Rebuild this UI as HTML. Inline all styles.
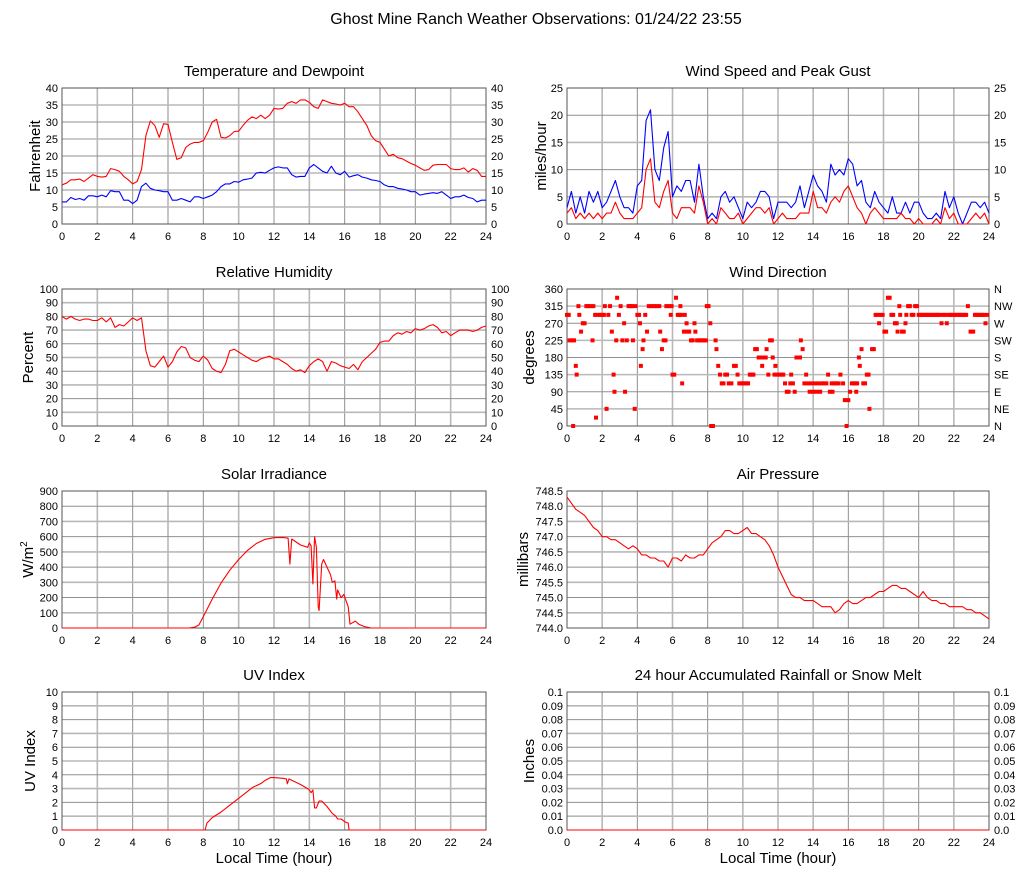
<!DOCTYPE html>
<html><head><meta charset="utf-8"><style>
html,body{margin:0;padding:0;background:#fff;}
svg{display:block;font-family:"Liberation Sans",sans-serif;}
</style></head><body>
<svg id="chart" width="1027" height="878" viewBox="0 0 1027 878" xmlns="http://www.w3.org/2000/svg">
<rect x="0" y="0" width="1027" height="878" fill="#fff"/>
<text x="536" y="24" font-size="16" text-anchor="middle" fill="#000">Ghost Mine Ranch Weather Observations: 01/24/22 23:55</text>
</svg>
<script>
// ---- data (quarter-hour samples unless paired with hours) ----
const tempF = [11.5,12,13,13, 13.2,12.5,13.5,14.5, 14,13.8,14,16.3, 16,15.5,14,13, 11.8,12.5,16,26, 30.3,29,25.5,29.5, 29.3,24,19,19.5, 22.5,23.5,24,24, 24.5,27,30,30.8, 25.5,25.3,26,27.2, 27.3,29,30.5,31.5, 31,32,31,32, 34,33.8,34,35.5, 36,35.5,36.5,36.5, 35.8,34.5,34,36.5, 36,35.5,35.3,35, 35.5,34.5,34.5,33, 31,29,26,24.5, 24,22,20,20.5, 19.5,19.2,18.5,17.8, 17.3,16.5,15.8,16, 17.3,17.5,17.5,17.5, 16.3,16,16,16.5, 15.3,16.3,15.8,14, 14];
const dewF = [6.5,6.5,7.8,7.2, 7.5,7,8.3,8.3, 8,8.5,8,9.8, 9.5,9.5,7,7, 6,7,11,12, 10.5,10,9.8,9.5, 9.5,7,7,7.5, 7,6.5,8,8, 7.5,8,8.5,9.5, 11,11.8,11.8,12.5, 12.3,13,13.2,13.5, 15,15.2,15,15.8, 16.5,16.8,16.5,16.5, 14.5,13.8,14,14, 16.5,17.5,16.5,15.5, 15,17,15,14.5, 15.5,13.8,14.2,14.5, 13.8,13.5,13,12.8, 12.5,11.5,11,11, 10.5,10.3,10,9.5, 9.5,8.5,8.8,9, 9.2,9,9.5,8.5, 7.5,8,8,8.5, 7.8,7.5,6.5,7, 7];
const gustMph = [3,6,2,5, 2,6,4,6, 3,4,6,8, 5,3,3,2, 7,8,19,21, 10,8,14,17, 5,7,6,8, 8,4,11,5, 1,2,1,5, 6,4,5,3, 1,4,3,4, 6,6,5,1, 4,4,4,3, 4,7,3,6, 9,7,6,4, 11,9,10,9, 12,11,7,8, 4,3,6,4, 3,2,5,2, 2,4,2,4, 4,2,1,1, 2,1,6,3, 5,2,0,2, 4,4,3,4, 2];
const speedMph = [2,3,1,2, 1,2,1,2, 1,2,2,4, 2,1,1,1, 2,3,10,12, 4,3,6,8, 2,1,3,3, 3,2,7,4, 0,1,0,3, 2,1,1,2, 0,1,2,3, 3,2,3,0, 1,2,1,1, 1,2,2,2, 6,3,3,2, 4,5,4,6, 7,5,3,2, 0,2,3,2, 1,1,1,1, 2,1,1,0, 1,0,0,0, 1,0,3,1, 2,0,0,0, 1,2,1,2, 0];
const humidity = [80,78,80,78, 77,78,78,77, 77,79,76,79, 72,74,73,76, 79,77,79,55, 44,43,47,51, 43,47,54,58, 57,50,48,47, 51,48,42,40, 39,45,55,56, 54,52,50,48, 47,49,50,51, 49,49,47,45, 42,40,41,39, 44,47,49,47, 40,47,46,44, 43,42,45,41, 47,50,53,56, 61,62,62,66, 68,67,69,68, 71,70,71,73, 74,72,68,69, 66,68,70,70, 70,69,70,72, 73];
const pressure = [748.3,748.1,747.9,747.8, 747.7,747.5,747.3,747.2, 747.0,747.0,746.9,746.9, 746.8,746.7,746.6,746.7, 746.6,746.4,746.4,746.3, 746.3,746.2,746.2,746.0, 746.3,746.3,746.2,746.4, 746.3,746.3,746.4,746.4, 746.6,746.8,746.9,747.0, 747.2,747.2,747.1,747.1, 747.2,747.3,747.1,747.1, 747.0,746.9,746.7,746.4, 746.0,745.7,745.4,745.1, 745.0,745.0,744.9,744.9, 744.9,744.8,744.7,744.7, 744.7,744.5,744.6,744.8, 744.9,744.8,744.8,744.9, 745.0,745.0,745.1,745.2, 745.2,745.3,745.4,745.4, 745.3,745.3,745.2,745.1, 745.0,745.2,745.0,744.9, 744.9,744.8,744.8,744.7, 744.7,744.7,744.7,744.6, 744.6,744.5,744.5,744.4, 744.3];
const dirHours = [0,0.1,0.15,0.3,0.4,0.35,0.5,0.55,0.65,0.7,0.8,0.9,1,1.1,1.2,1.35,1.45,1.5,1.6,1.65,1.75,1.9,2,2.1,2.15,2.25,2.35,2.45,2.55,2.65,2.7,2.8,2.85,2.95,3.05,3.15,3.25,3.3,3.4,3.5,3.6,3.7,3.75,3.85,3.9,4,4.1,4.15,4.2,4.3,4.35,4.45,4.55,4.65,4.8,4.95,5.1,5.25,5.3,5.4,5.5,5.6,5.65,5.8,5.9,5.95,6,6.1,6.2,6.3,6.4,6.45,6.5,6.55,6.65,6.7,6.8,6.85,6.95,7.05,7.15,7.25,7.3,7.4,7.5,7.6,7.7,7.8,7.9,7.95,8.05,8.15,8.2,8.3,8.45,8.5,8.6,8.7,8.8,8.9,9,9.1,9.2,9.35,9.5,9.6,9.7,9.8,9.9,10,10.1,10.2,10.3,10.4,10.5,10.6,10.7,10.8,10.9,11,11.1,11.2,11.3,11.35,11.45,11.55,11.65,11.7,11.8,11.85,11.95,12.1,12.2,12.3,12.4,12.5,12.6,12.7,12.75,12.85,12.95,13.05,13.15,13.25,13.3,13.4,13.5,13.6,13.7,13.8,13.9,14,14.1,14.2,14.3,14.4,14.5,14.6,14.75,14.85,14.95,15.05,15.1,15.2,15.3,15.45,15.55,15.7,15.8,15.9,16,16.1,16.2,16.3,16.4,16.45,16.5,16.6,16.65,16.75,16.85,16.95,17.05,17.15,17.2,17.35,17.45,17.55,17.65,17.75,17.85,17.95,18.05,18.15,18.25,18.35,18.45,18.55,18.65,18.75,18.8,18.9,18.95,19.05,19.15,19.25,19.3,19.4,19.5,19.6,19.7,19.8,19.9,20,20.1,20.2,20.3,20.4,20.5,20.6,20.7,20.8,20.9,21,21.1,21.2,21.3,21.4,21.5,21.6,21.7,21.8,21.9,22,22.1,22.2,22.3,22.4,22.5,22.6,22.7,22.8,22.95,23.1,23.2,23.3,23.4,23.5,23.6,23.7,23.8,23.9,24];
const dirDeg = [292,292,225,225,225,0,158,135,315,292,248,270,270,315,315,315,225,315,292,22,292,292,292,292,315,45,292,315,248,135,90,225,337,292,315,225,270,90,225,315,315,315,225,45,315,292,292,270,158,202,225,292,248,315,315,315,315,315,248,202,225,225,315,315,292,315,135,135,337,292,292,315,292,112,248,292,270,248,248,225,225,270,248,225,225,225,225,225,225,315,315,270,0,0,225,202,158,135,112,112,135,135,112,112,158,158,135,112,112,112,112,112,112,135,135,135,202,202,180,180,158,180,180,202,135,225,225,180,135,158,135,135,135,135,112,90,90,112,135,112,90,180,180,180,225,202,112,135,112,90,112,90,112,90,112,90,112,112,112,135,90,112,90,112,112,112,135,112,68,0,68,90,112,112,112,90,112,180,158,202,112,112,135,135,45,202,202,292,292,270,292,292,248,248,337,337,292,292,270,270,248,315,292,248,248,270,292,315,315,292,292,315,315,292,292,292,292,292,292,292,292,292,292,292,292,292,270,292,292,270,292,292,292,292,292,292,292,292,292,292,292,315,248,248,292,292,292,292,292,292,270,292];
const solarHours = [0,7.2,7.5,7.75,8,8.5,9,9.5,10,10.5,11,11.5,12,12.5,12.8,12.9,13,13.5,13.9,14,14.1,14.2,14.3,14.4,14.5,14.55,14.7,14.8,15,15.2,15.3,15.45,15.55,15.6,15.8,15.95,16.2,16.3,16.6,16.8,17.1,17.5,24];
const solarWm2 = [0,0,5,20,75,190,295,380,450,510,555,583,593,595,590,420,585,545,530,560,540,290,600,530,140,115,420,450,400,350,300,310,190,250,200,220,140,25,45,25,10,0,0];
const uvHours = [0,8.1,8.2,8.5,9,9.5,10,10.5,10.8,11,11.3,11.5,11.8,12,12.5,12.7,12.75,12.85,13,13.5,13.9,14,14.1,14.2,14.3,14.4,14.55,14.7,15,15.3,15.5,15.6,15.8,16,16.2,16.25,24];
const uvIndex = [0,0,0.5,0.9,1.3,1.8,2.3,2.8,3.1,3.2,3.4,3.6,3.8,3.8,3.75,3.7,3.35,3.7,3.6,3.3,3.0,2.9,2.7,2.9,1.6,1.6,2.1,2.1,1.7,1.2,1.0,0.8,0.8,0.6,0.5,0,0];
const rainHours = [0,24];
const rainIn = [0,0];
const xTicks = [0,2,4,6,8,10,12,14,16,18,20,22,24];

const NS = 'http://www.w3.org/2000/svg';
const svg = document.getElementById('chart');
function mk(tag, attrs, parent){ const e=document.createElementNS(NS,tag); for(const k in attrs) e.setAttribute(k,attrs[k]); (parent||svg).appendChild(e); return e; }
const quarter = n => Array.from({length:n},(_,i)=>i*0.25);

function panel(o){
  const g = mk('g',{});
  
  
  const sx = h => o.l + (h/24)*(o.r-o.l);
  const sy = v => o.b - (v-o.ymin)/(o.ymax-o.ymin)*(o.b-o.t);
  const t = mk('text',{x:(o.l+o.r)/2,y:o.t-12,'font-size':15,'text-anchor':'middle',fill:'#000'},g);
  t.textContent = o.title;
  
  
  mk('rect',{x:o.l,y:o.t,width:o.r-o.l,height:o.b-o.t,fill:'#fff'},g);
  xTicks.forEach((h,i)=>{
    if(i>0&&i<xTicks.length-1) mk('line',{x1:sx(h),x2:sx(h),y1:o.t,y2:o.b,stroke:(i%2?'#b8b8b8':'#909090'),'stroke-width':(i%2?1.6:1)},g);
    const lb = mk('text',{x:sx(h),y:o.b+16,'font-size':11,'text-anchor':'middle',fill:'#000'},g);
    lb.textContent = h;
    
    
  });
  o.yticks.forEach((v,i)=>{
    const y = sy(v);
    if(i>0&&i<o.yticks.length-1) mk('line',{x1:o.l,x2:o.r,y1:y,y2:y,stroke:(i%2?'#b8b8b8':'#909090'),'stroke-width':(i%2?1.6:1)},g);
    const lb = mk('text',{x:o.l-4,y:y+4,'font-size':11,'text-anchor':'end',fill:'#000'},g);
    lb.textContent = o.fmt? o.fmt(v) : v;
    
    
    if(o.right){
      const rl = mk('text',{x:o.r+5,y:y+4,'font-size':11,'text-anchor':'start',fill:'#000'},g);
      rl.textContent = o.rightLabels ? o.rightLabels[i] : (o.fmt? o.fmt(v):v);
      
      
    }
  });
  mk('rect',{x:o.l,y:o.t,width:o.r-o.l,height:o.b-o.t,fill:'none',stroke:'#555','stroke-width':1},g);
  const cy=(o.t+o.b)/2;
  const yt = mk('text',{x:o.ylx,y:cy,'font-size':15,'text-anchor':'middle',fill:'#000',transform:`rotate(-90 ${o.ylx} ${cy})`},g);
  yt.innerHTML = o.ylabel;
  
  
  if(o.xlabel){
    const xt = mk('text',{x:(o.l+o.r)/2,y:o.b+33,'font-size':15,'text-anchor':'middle',fill:'#000'},g);
    xt.textContent = 'Local Time (hour)';
    
    
  }
  return {g,sx,sy};
}
function series(p, hs, vs, color, name){
  const d = vs.map((v,i)=>(i?'L':'M')+p.sx(hs[i]).toFixed(1)+','+p.sy(v).toFixed(1)).join('');
  const e = mk('path',{d,fill:'none',stroke:color,'stroke-width':1.1,'stroke-linejoin':'round'},p.g);
  
  
}
const range=(a,b,s)=>{const r=[];for(let v=a;v<=b+1e-9;v+=s)r.push(+v.toFixed(3));return r;};
const L={l:62,r:486}, R={l:567,r:989};

let p;
p = panel({...L,t:88,b:224,ymin:0,ymax:40,yticks:range(0,40,5),right:true,title:'Temperature and Dewpoint',name:'temperature',ylabel:'Fahrenheit',ylx:40});
series(p, quarter(tempF.length), tempF, '#ff0000', 'temperature-line');
series(p, quarter(dewF.length), dewF, '#0000ff', 'dewpoint-line');

p = panel({...R,t:88,b:224,ymin:0,ymax:25,yticks:range(0,25,5),right:true,title:'Wind Speed and Peak Gust',name:'wind-speed',ylabel:'miles/hour',ylx:546});
series(p, quarter(gustMph.length), gustMph, '#0000ff', 'peak-gust-line');
series(p, quarter(speedMph.length), speedMph, '#ff0000', 'wind-speed-line');

p = panel({...L,t:289,b:426,ymin:0,ymax:100,yticks:range(0,100,10),right:true,title:'Relative Humidity',name:'humidity',ylabel:'Percent',ylx:33});
series(p, quarter(humidity.length), humidity, '#ff0000', 'humidity-line');

p = panel({...R,t:289,b:426,ymin:0,ymax:360,yticks:range(0,360,45),right:true,rightLabels:['N','NE','E','SE','S','SW','W','NW','N'],title:'Wind Direction',name:'wind-direction',ylabel:'degrees',ylx:534});
dirDeg.forEach((v,i)=>{
  const r = mk('rect',{x:p.sx(dirHours[i])-2,y:p.sy(v)-2,width:4,height:4,fill:'#ff0000'},p.g);
  
  
});

p = panel({...L,t:491,b:628,ymin:0,ymax:900,yticks:range(0,900,100),right:false,title:'Solar Irradiance',name:'solar',ylabel:'W/m<tspan dy="-6" font-size="10">2</tspan>',ylx:33});
series(p, solarHours, solarWm2, '#ff0000', 'solar-line');

p = panel({...R,t:491,b:628,ymin:744,ymax:748.5,yticks:range(744,748.5,0.5),fmt:v=>v.toFixed(1),right:false,title:'Air Pressure',name:'pressure',ylabel:'millibars',ylx:528});
series(p, quarter(pressure.length), pressure, '#ff0000', 'pressure-line');

p = panel({...L,t:692,b:830,ymin:0,ymax:10,yticks:range(0,10,1),right:false,title:'UV Index',name:'uv',ylabel:'UV Index',ylx:35,xlabel:true});
series(p, uvHours, uvIndex, '#ff0000', 'uv-line');

p = panel({...R,t:692,b:830,ymin:0,ymax:0.1,yticks:range(0,0.1,0.01),fmt:v=>v===0?'0.0':(v>=0.1?'0.1':String(+v.toFixed(2))),right:true,title:'24 hour Accumulated Rainfall or Snow Melt',name:'rainfall',ylabel:'Inches',ylx:534,xlabel:true});
series(p, rainHours, rainIn, '#ff0000', 'rainfall-line');
</script>
</body></html>
